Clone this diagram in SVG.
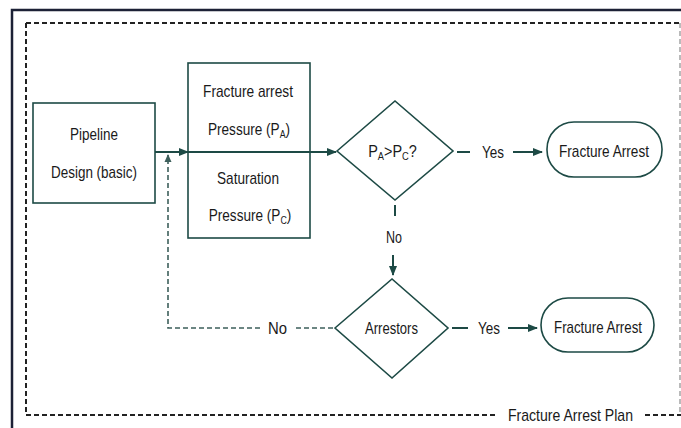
<svg xmlns="http://www.w3.org/2000/svg" width="681" height="428" viewBox="0 0 681 428">
<style>
.n{fill:#fff;stroke:#1d4a45;stroke-width:1.6}
.t{font-family:"Liberation Sans",Arial,sans-serif;font-size:17px;fill:#1a1a1a;text-anchor:middle}
.c{fill:none;stroke:#1d4a45;stroke-width:2}
.d{fill:none;stroke:#3d5f5b;stroke-width:1.6;stroke-dasharray:5,3}
.fr{fill:none;stroke:#222;stroke-width:2;stroke-dasharray:5,3}
</style>
<defs>
<marker id="ah" markerWidth="10" markerHeight="10" refX="9" refY="5" orient="auto" markerUnits="userSpaceOnUse">
<path d="M0,1 L10,5 L0,9 Z" fill="#1d4a45"/>
</marker>
<marker id="ahs" markerWidth="8" markerHeight="8" refX="7" refY="4" orient="auto" markerUnits="userSpaceOnUse">
<path d="M0,0.5 L8,4 L0,7.5 Z" fill="#3d5f5b"/>
</marker>
</defs>
<rect width="681" height="428" fill="#fff"/>
<g id="frame">
<path d="M12,428 V10 H681" fill="none" stroke="#1c2136" stroke-width="2.5"/>
<path class="fr" d="M26,23 H680"/>
<path class="fr" d="M26,23 V415 H498"/>
<path class="fr" d="M645,415 H681"/>
<path d="M680,23 V412" fill="none" stroke="#aaa" stroke-width="1.6" stroke-dasharray="5,3"/>
<text class="t" x="570.5" y="421" textLength="125" lengthAdjust="spacingAndGlyphs">Fracture Arrest Plan</text>
</g>
<g id="connectors">
<path class="c" d="M155,152 H188" marker-end="url(#ah)"/>
<path class="c" d="M310,152 H336" marker-end="url(#ah)"/>
<path class="c" d="M457,152 H470"/>
<text class="t" x="493" y="158" textLength="22" lengthAdjust="spacingAndGlyphs">Yes</text>
<path class="c" d="M513,152 H542" marker-end="url(#ah)"/>
<path class="c" d="M395,205 V216"/>
<text class="t" x="394" y="243" textLength="16" lengthAdjust="spacingAndGlyphs">No</text>
<path class="c" d="M393,255 V275" marker-end="url(#ah)"/>
<path class="c" d="M452,328 H468"/>
<text class="t" x="489" y="334" textLength="22" lengthAdjust="spacingAndGlyphs">Yes</text>
<path class="c" d="M508,328 H537" marker-end="url(#ah)"/>
<path class="d" d="M333,328 H295"/>
<text class="t" x="277.5" y="334" textLength="19" lengthAdjust="spacingAndGlyphs">No</text>
<path class="d" d="M260,328 H168 V155" marker-end="url(#ahs)"/>
</g>
<g id="pipeline">
<rect class="n" x="33" y="103" width="122" height="100"/>
<text class="t" x="94" y="140" textLength="48" lengthAdjust="spacingAndGlyphs">Pipeline</text>
<text class="t" x="94" y="178" textLength="86" lengthAdjust="spacingAndGlyphs">Design (basic)</text>
</g>
<g id="pressures">
<rect class="n" x="188" y="63" width="122" height="175"/>
<path class="c" d="M188,152 H310"/>
<text class="t" x="248" y="97" textLength="90" lengthAdjust="spacingAndGlyphs">Fracture arrest</text>
<text class="t" transform="translate(249,135) scale(0.8,1)">Pressure (P<tspan font-size="11" dy="3">A</tspan><tspan dy="-3">)</tspan></text>
<text class="t" x="248" y="184" textLength="62" lengthAdjust="spacingAndGlyphs">Saturation</text>
<text class="t" transform="translate(250,221) scale(0.8,1)">Pressure (P<tspan font-size="11" dy="3">C</tspan><tspan dy="-3">)</tspan></text>
</g>
<g id="decision1">
<path class="n" d="M337,151 L395,101 L453,151 L395,200 Z"/>
<text class="t" transform="translate(392.5,157) scale(0.85,1)">P<tspan font-size="11" dy="3">A</tspan><tspan dy="-3">&gt;P</tspan><tspan font-size="11" dy="3">C</tspan><tspan dy="-3">?</tspan></text>
</g>
<g id="arrest1">
<rect class="n" x="547" y="122" width="115" height="55" rx="27"/>
<text class="t" x="604" y="157" textLength="90" lengthAdjust="spacingAndGlyphs">Fracture Arrest</text>
</g>
<g id="decision2">
<path class="n" d="M335,328 L392,279 L448,328 L392,378 Z"/>
<text class="t" x="391.5" y="334" textLength="53" lengthAdjust="spacingAndGlyphs">Arrestors</text>
</g>
<g id="arrest2">
<rect class="n" x="541" y="298" width="113" height="54" rx="27"/>
<text class="t" x="598" y="333" textLength="88" lengthAdjust="spacingAndGlyphs">Fracture Arrest</text>
</g>
</svg>
